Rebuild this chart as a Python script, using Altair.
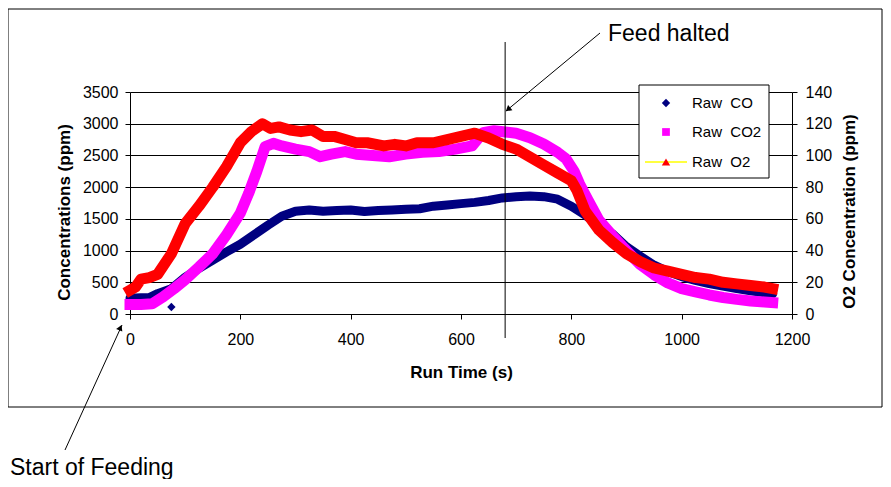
import altair as alt
import pandas as pd

# ---------------- data ----------------
time_co = [0, 20, 35, 50, 75, 100, 125, 150, 175, 200, 225, 250, 275, 300, 325, 350, 375, 400,
           425, 450, 475, 500, 525, 550, 575, 600, 625, 650, 675, 700, 725, 750, 775, 800,
           825, 850, 875, 900, 925, 950, 975, 1000, 1025, 1050, 1075, 1100, 1125, 1150, 1165]
co_ppm = [250, 255, 260, 320, 400, 580, 720, 850, 980, 1100, 1250, 1400, 1540, 1620, 1640, 1620, 1630, 1640,
          1615, 1630, 1640, 1650, 1660, 1700, 1720, 1740, 1760, 1790, 1830, 1850, 1860, 1850, 1810, 1700,
          1560, 1400, 1260, 1060, 910, 770, 670, 590, 530, 480, 440, 400, 365, 335, 320]

time_co2 = [0, 20, 40, 60, 80, 100, 125, 150, 175, 200, 215, 230, 245, 260, 275, 300, 325, 345, 365,
            390, 410, 440, 470, 500, 530, 560, 590, 620, 640, 660, 680, 700, 725, 750, 775, 790,
            805, 815, 830, 850, 875, 900, 925, 950, 975, 1000, 1025, 1050, 1075, 1100, 1125, 1150, 1165]
co2_ppm = [150, 150, 160, 270, 400, 540, 740, 950, 1250, 1590, 1900, 2250, 2640, 2690, 2650, 2600, 2560, 2480, 2520,
           2560, 2520, 2500, 2480, 2520, 2550, 2560, 2600, 2650, 2860, 2890, 2870, 2850, 2780, 2680, 2550, 2450,
           2250, 2050, 1800, 1480, 1230, 1000, 780, 620, 490, 400, 350, 300, 260, 230, 205, 190, 180]

time_o2 = [0, 10, 20, 35, 50, 75, 100, 125, 150, 175, 200, 220, 240, 255, 270, 290, 310, 330, 350, 370,
           390, 410, 430, 460, 480, 500, 520, 550, 575, 600, 625, 650, 675, 700, 725, 750, 775, 800,
           810, 825, 850, 875, 900, 925, 950, 975, 1000, 1025, 1050, 1075, 1100, 1125, 1150, 1165]
o2_ppm = [15, 17, 22, 23, 25, 38, 57, 68, 80, 93, 108, 115, 120, 117, 118, 116, 115, 116, 112, 112,
          110, 108, 108, 106, 107, 106, 108, 108, 110, 112, 114, 111, 107, 104, 99, 94, 89, 84,
          78, 65, 53, 45, 38, 33, 29, 27, 25, 23, 22, 20, 19, 18, 17, 16]

outlier_time = [75]
outlier_co = [110]

feed_halt_time = [680]

series_names = ["Raw\u00a0\u00a0CO", "Raw\u00a0\u00a0CO2", "Raw\u00a0\u00a0O2"]
series_colors = ["#000080", "#FF00FF", "#FF0000"]

x_ticks = [0, 200, 400, 600, 800, 1000, 1200]
left_ticks = [0, 500, 1000, 1500, 2000, 2500, 3000, 3500]
right_ticks = [0, 20, 40, 60, 80, 100, 120, 140]

# ---------------- chart ----------------
FONT = "Liberation Sans"
W, H = 662, 222

co_df = pd.DataFrame({"t": time_co, "v": co_ppm})
co2_df = pd.DataFrame({"t": time_co2, "v": co2_ppm})
o2_df = pd.DataFrame({"t": time_o2, "v": o2_ppm})
out_df = pd.DataFrame({"t": outlier_time, "v": outlier_co})
halt_df = pd.DataFrame({"t": feed_halt_time})
one = pd.DataFrame({"a": [0]})

x_enc = alt.X("t:Q", scale=alt.Scale(domain=[0, 1200], nice=False, zero=False),
              axis=alt.Axis(values=x_ticks, title="Run Time (s)", grid=False, format="d",
                            labelFlush=False,
                            tickSize=5, tickColor="#000", domainColor="#000",
                            labelFont=FONT, labelFontSize=16, labelColor="#000", labelPadding=12,
                            titleFont=FONT, titleFontSize=17, titleFontWeight="bold",
                            titleColor="#000", titlePadding=17))

yl_enc = alt.Y("v:Q", scale=alt.Scale(domain=[0, 3500], nice=False),
               axis=alt.Axis(values=left_ticks, title="Concentrations (ppm)", grid=True,
                             gridColor="#000", gridWidth=1, format="d", labelFlush=False,
                             tickSize=5, tickColor="#000", domainColor="#000",
                             labelFont=FONT, labelFontSize=16, labelColor="#000", labelPadding=7,
                             titleFont=FONT, titleFontSize=17, titleFontWeight="bold",
                             titleColor="#000", titlePadding=9, titleY=120))

yr_enc = alt.Y("v:Q", scale=alt.Scale(domain=[0, 140], nice=False),
               axis=alt.Axis(orient="right", values=right_ticks, title="O2 Concentration (ppm)",
                             grid=False, format="d", labelFlush=False,
                             tickSize=5, tickColor="#000", domainColor="#000",
                             labelFont=FONT, labelFontSize=16, labelColor="#000", labelPadding=8,
                             titleFont=FONT, titleFontSize=17, titleFontWeight="bold",
                             titleColor="#000", titlePadding=10, titleAngle=270,
                             titleBaseline="top", titleY=119))

frame = alt.Chart(one).mark_rect(fill="transparent", stroke="#000", strokeWidth=1).encode(
    x=alt.value(-122), x2=alt.value(752), y=alt.value(-83), y2=alt.value(315))

co_line = alt.Chart(co_df).mark_line(color=series_colors[0], strokeWidth=9,
                                      strokeJoin="round", strokeCap="round").encode(x=x_enc, y=yl_enc)
co2_line = alt.Chart(co2_df).mark_line(color=series_colors[1], strokeWidth=11,
                                        strokeJoin="round", strokeCap="square").encode(x=x_enc, y=yl_enc)
co_out = alt.Chart(out_df).mark_point(shape="diamond", filled=True, size=70, opacity=1,
                                      color=series_colors[0]).encode(x=x_enc, y=yl_enc)
o2_line = alt.Chart(o2_df).mark_line(color=series_colors[2], strokeWidth=11,
                                      strokeJoin="round", strokeCap="square").encode(x=x_enc, y=yr_enc)

left_layer = alt.layer(co_line, co2_line, co_out)

halt_rule = alt.Chart(halt_df).mark_rule(color="#000", strokeWidth=1).encode(
    x=x_enc, y=alt.value(-50), y2=alt.value(246))

# annotations
halt_text = alt.Chart(one).mark_text(text="Feed halted", align="left", baseline="middle",
                                     font=FONT, fontSize=23, color="#000").encode(
    x=alt.value(478), y=alt.value(-58))
halt_arrow = alt.Chart(one).mark_rule(color="#000", strokeWidth=1).encode(
    x=alt.value(470), y=alt.value(-59), x2=alt.value(376), y2=alt.value(19))
halt_head = alt.Chart(one).mark_point(shape="triangle-up", filled=True, size=45, angle=230,
                                      color="#000", opacity=1).encode(
    x=alt.value(378), y=alt.value(17.5))

start_text = alt.Chart(one).mark_text(text="Start of Feeding", align="left", baseline="alphabetic",
                                      font=FONT, fontSize=23, color="#000").encode(
    x=alt.value(-120), y=alt.value(383))
start_arrow = alt.Chart(one).mark_rule(color="#000", strokeWidth=1).encode(
    x=alt.value(-65), y=alt.value(358), x2=alt.value(-8), y2=alt.value(233))
start_head = alt.Chart(one).mark_point(shape="triangle-up", filled=True, size=45, angle=24,
                                       color="#000", opacity=1).encode(
    x=alt.value(-9.6), y=alt.value(235.6))

# legend
leg_box = alt.Chart(one).mark_rect(fill="white", stroke="#000", strokeWidth=1).encode(
    x=alt.value(509), x2=alt.value(639), y=alt.value(-7), y2=alt.value(86))
leg_co = alt.Chart(one).mark_point(shape="diamond", filled=True, size=70, opacity=1,
                                   color=series_colors[0]).encode(x=alt.value(536), y=alt.value(11))
leg_co2 = alt.Chart(one).mark_point(shape="square", filled=True, size=60, opacity=1,
                                    color=series_colors[1]).encode(x=alt.value(536), y=alt.value(40))
leg_o2_line = alt.Chart(one).mark_rule(color="#FFFF00", strokeWidth=1.5).encode(
    x=alt.value(515), x2=alt.value(557), y=alt.value(70))
leg_o2 = alt.Chart(one).mark_point(shape="triangle-up", filled=True, size=70, opacity=1,
                                   color=series_colors[2]).encode(x=alt.value(536), y=alt.value(70))
leg_t1 = alt.Chart(one).mark_text(text=series_names[0], align="left", baseline="middle",
                                  font=FONT, fontSize=15, color="#000").encode(x=alt.value(562), y=alt.value(11))
leg_t2 = alt.Chart(one).mark_text(text=series_names[1], align="left", baseline="middle",
                                  font=FONT, fontSize=15, color="#000").encode(x=alt.value(562), y=alt.value(40))
leg_t3 = alt.Chart(one).mark_text(text=series_names[2], align="left", baseline="middle",
                                  font=FONT, fontSize=15, color="#000").encode(x=alt.value(562), y=alt.value(70))

chart = alt.layer(
    frame, left_layer, o2_line, halt_rule,
    halt_text, halt_arrow, halt_head, start_text, start_arrow, start_head,
    leg_box, leg_co, leg_co2, leg_o2_line, leg_o2, leg_t1, leg_t2, leg_t3
).resolve_scale(y="independent").properties(
    width=W, height=H,
    padding={"left": 122, "top": 84, "right": 91, "bottom": 165},
    autosize=alt.AutoSizeParams(type="none"),
    background="white",
).configure_view(stroke=None)

chart.save("out.html", embed_options={"renderer": "svg", "actions": False})
